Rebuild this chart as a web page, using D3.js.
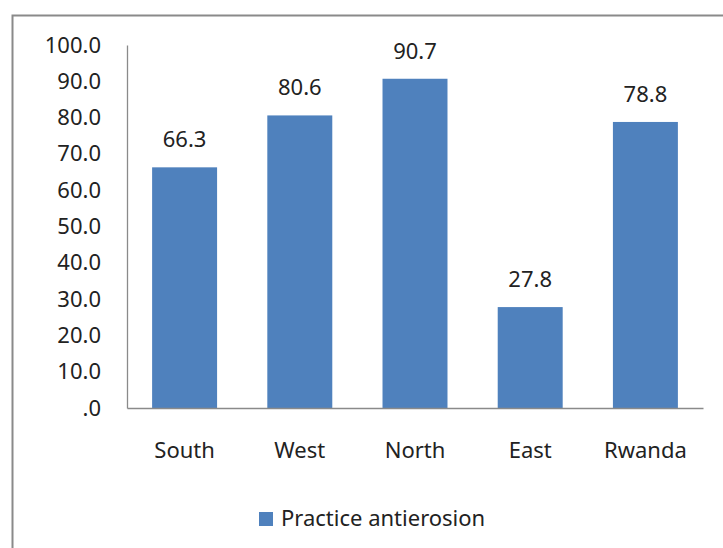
<!DOCTYPE html>
<html>
<head>
<meta charset="utf-8">
<script src="https://cdn.jsdelivr.net/npm/d3@7"></script>
<style>
  body { margin: 0; background: #fff; }
  text { font-family: "Noto Sans", sans-serif; fill: #222; }
</style>
</head>
<body>
<div id="chart"></div>
<script>
// data
var regions = ["South", "West", "North", "East", "Rwanda"]
var practiceValues = [66.3, 80.6, 90.7, 27.8, 78.8]
var yTicks = [0, 10, 20, 30, 40, 50, 60, 70, 80, 90, 100]
var seriesName = "Practice antierosion"

var width = 723
var height = 548
var margin = { top: 45, right: 20, bottom: 140, left: 127 }
var barColor = "#4f81bd"

var svg = d3.select("#chart")
    .append("svg")
    .attr("width", width)
    .attr("height", height)

// outer frame (runs off the right and bottom edge like the original)
svg.append("rect")
    .attr("x", 12.5)
    .attr("y", 15.5)
    .attr("width", 800)
    .attr("height", 600)
    .attr("fill", "none")
    .attr("stroke", "#8a8a8a")
    .attr("stroke-width", 2)

var x = d3.scaleBand()
    .domain(regions)
    .range([margin.left, width - margin.right])
    .paddingInner(0.436)
    .paddingOuter(0.218)

var y = d3.scaleLinear()
    .domain([0, 100])
    .range([height - margin.bottom, margin.top])

// y axis labels
function fmt(d) {
    var s = d3.format(".1f")(d)
    return s.replace(/^0\./, ".")
}
var yAxis = d3.axisLeft(y)
    .tickValues(yTicks)
    .tickFormat(fmt)
    .tickSize(0)
    .tickPadding(26)

var gy = svg.append("g")
    .attr("transform", "translate(" + margin.left + ",0)")
    .call(yAxis)
gy.select(".domain").attr("stroke", "#8a8a8a").attr("stroke-width", 1.3)
gy.selectAll("text").style("font-size", "22px").attr("fill", "#222")

// bars
svg.selectAll("rect.bar")
    .data(practiceValues)
    .enter()
    .append("rect")
    .attr("class", "bar")
    .attr("x", function (d, i) { return x(regions[i]) })
    .attr("y", function (d) { return y(d) })
    .attr("width", x.bandwidth())
    .attr("height", function (d) { return y(0) - y(d) })
    .attr("fill", barColor)

// value labels
svg.selectAll("text.val")
    .data(practiceValues)
    .enter()
    .append("text")
    .attr("class", "val")
    .attr("x", function (d, i) { return x(regions[i]) + x.bandwidth() / 2 })
    .attr("y", function (d) { return y(d) - 20 })
    .attr("text-anchor", "middle")
    .style("font-size", "22px")
    .text(function (d) { return d.toFixed(1) })

// x axis
var xAxis = d3.axisBottom(x).tickSize(0).tickPadding(34)
var gx = svg.append("g")
    .attr("transform", "translate(0," + y(0) + ")")
    .call(xAxis)
gx.select(".domain").attr("stroke", "#8a8a8a").attr("stroke-width", 1.3)
gx.selectAll("text").style("font-size", "22px").attr("fill", "#222")

// legend
var legend = svg.append("g").attr("transform", "translate(259,512)")
legend.append("rect")
    .attr("width", 14)
    .attr("height", 14)
    .attr("fill", barColor)
legend.append("text")
    .attr("x", 22)
    .attr("y", 14)
    .style("font-size", "22px")
    .text(seriesName)
</script>
</body>
</html>
